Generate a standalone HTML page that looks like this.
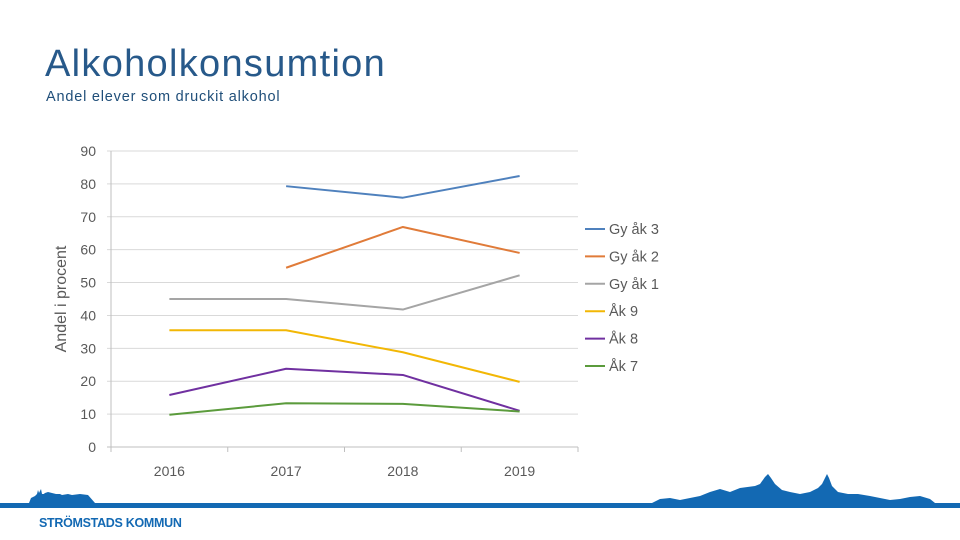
<!DOCTYPE html>
<html><head><meta charset="utf-8"><style>
body{margin:0;width:960px;height:540px;background:#fff;overflow:hidden;position:relative;font-family:"Liberation Sans",sans-serif}
#title{position:absolute;left:45px;top:40px;font-size:38px;color:#27598a;font-weight:normal;margin:0;line-height:48px;letter-spacing:1.3px}
#sub{position:absolute;left:46px;top:89px;font-size:14.5px;color:#1f4e79;letter-spacing:0.8px}
svg{position:absolute;left:0;top:0}
#brand{position:absolute;left:39px;top:516px;font-size:12.5px;font-weight:bold;color:#1369b3;letter-spacing:-0.3px}
</style></head><body>
<h1 id="title">Alkoholkonsumtion</h1>
<div id="sub">Andel elever som druckit alkohol</div>
<svg id="chart" width="960" height="540">
<g id="grid"></g><g id="series"></g><g id="legend"></g>
<text x="66" y="299" transform="rotate(-90 66 299)" text-anchor="middle" font-size="16" fill="#595959">Andel i procent</text>
<g fill="#1369b3">
<path d="M30,503 L32,499 L40,497 L45,493 L48,492 L52,493 L56,494 L60,494 L62,495 L68,494 L72,495 L80,494 L88,495 L95,503 Z"/>
<path d="M29,503 L31,498 L35,496 L37,494 L38,490 L39,493 L41,489 L42,494 L46,494 L48,497 L52,497 L55,499 L58,497 L62,498 L68,497 L76,498 L80,497 L85,499 L90,503 Z"/>
</g>
<g fill="#1369b3">
<path d="M652,503 L660,499 L670,498 L680,500 L690,498 L700,496 L710,492 L720,489 L730,492 L740,488 L755,486 L760,484 L765,477 L768,474 L771,478 L775,484 L782,490 L790,492 L800,494 L810,492 L818,488 L822,484 L825,478 L827,474 L829,478 L832,486 L838,492 L848,494 L858,494 L870,496 L880,498 L890,500 L900,499 L910,497 L920,496 L930,499 L935,503 Z"/>
</g>
<rect x="0" y="503" width="960" height="5" fill="#1369b3"/>
</svg>
<div id="brand">STRÖMSTADS KOMMUN</div>
<script>
const categories=["2016","2017","2018","2019"];
const yTicks=[0,10,20,30,40,50,60,70,80,90];
const seriesNames=["Gy åk 3","Gy åk 2","Gy åk 1","Åk 9","Åk 8","Åk 7"];
const seriesColors=["#4f81bd","#e07b39","#a5a5a5","#f2b705","#7030a0","#5b9b3c"];
const gyAk3=[null,79.3,75.8,82.4];
const gyAk2=[null,54.5,66.9,59];
const gyAk1=[45,45,41.8,52.2];
const ak9=[35.5,35.5,28.8,19.8];
const ak8=[15.8,23.8,21.9,11];
const ak7=[9.8,13.3,13.1,10.8];
const allSeries=[gyAk3,gyAk2,gyAk1,ak9,ak8,ak7];
const NS="http://www.w3.org/2000/svg";
const L=111,R=578,T=151,B=447;
const x=i=>L+(i+0.5)*(R-L)/categories.length;
const y=v=>B-v/90*(B-T);
function mk(tag,attrs,parent){const e=document.createElementNS(NS,tag);for(const k in attrs)e.setAttribute(k,attrs[k]);parent.appendChild(e);return e;}
const grid=document.getElementById('grid');
yTicks.forEach(t=>{
 const ln=mk('line',{x1:L-4,x2:R,y1:y(t),y2:y(t),stroke:t===0?'#bfbfbf':'#d9d9d9','stroke-width':1},grid);
 
 
 const tx=mk('text',{x:96,y:y(t)+5,'text-anchor':'end','font-size':14,fill:'#595959'},grid);
 tx.textContent=t;
 
 
});
for(let i=0;i<=categories.length;i++){
 const px=L+i*(R-L)/categories.length;
 mk('line',{x1:px,x2:px,y1:B,y2:B+5,stroke:'#bfbfbf'},grid);
}
mk('line',{x1:L,x2:L,y1:T,y2:B,stroke:'#bfbfbf'},grid);
categories.forEach((c,i)=>{
 const tx=mk('text',{x:x(i),y:476,'text-anchor':'middle','font-size':14,fill:'#595959'},grid);
 tx.textContent=c;
 
 
});
const sg=document.getElementById('series');
allSeries.forEach((s,k)=>{
 const pts=[];s.forEach((v,i)=>{if(v!==null)pts.push(x(i)+','+y(v));});
 const pl=mk('polyline',{points:pts.join(' '),fill:'none',stroke:seriesColors[k],'stroke-width':2,'stroke-linejoin':'round'},sg);
 
 
});
const lg=document.getElementById('legend');
seriesNames.forEach((n,k)=>{
 const yy=229+k*27.4;
 const g=mk('g',{},lg);
 
 
 mk('line',{x1:585,x2:605,y1:yy,y2:yy,stroke:seriesColors[k],'stroke-width':2},g);
 const t=mk('text',{x:609,y:yy+5,'font-size':14.5,fill:'#595959'},g);
 t.textContent=n;
});
</script>
</body></html>
